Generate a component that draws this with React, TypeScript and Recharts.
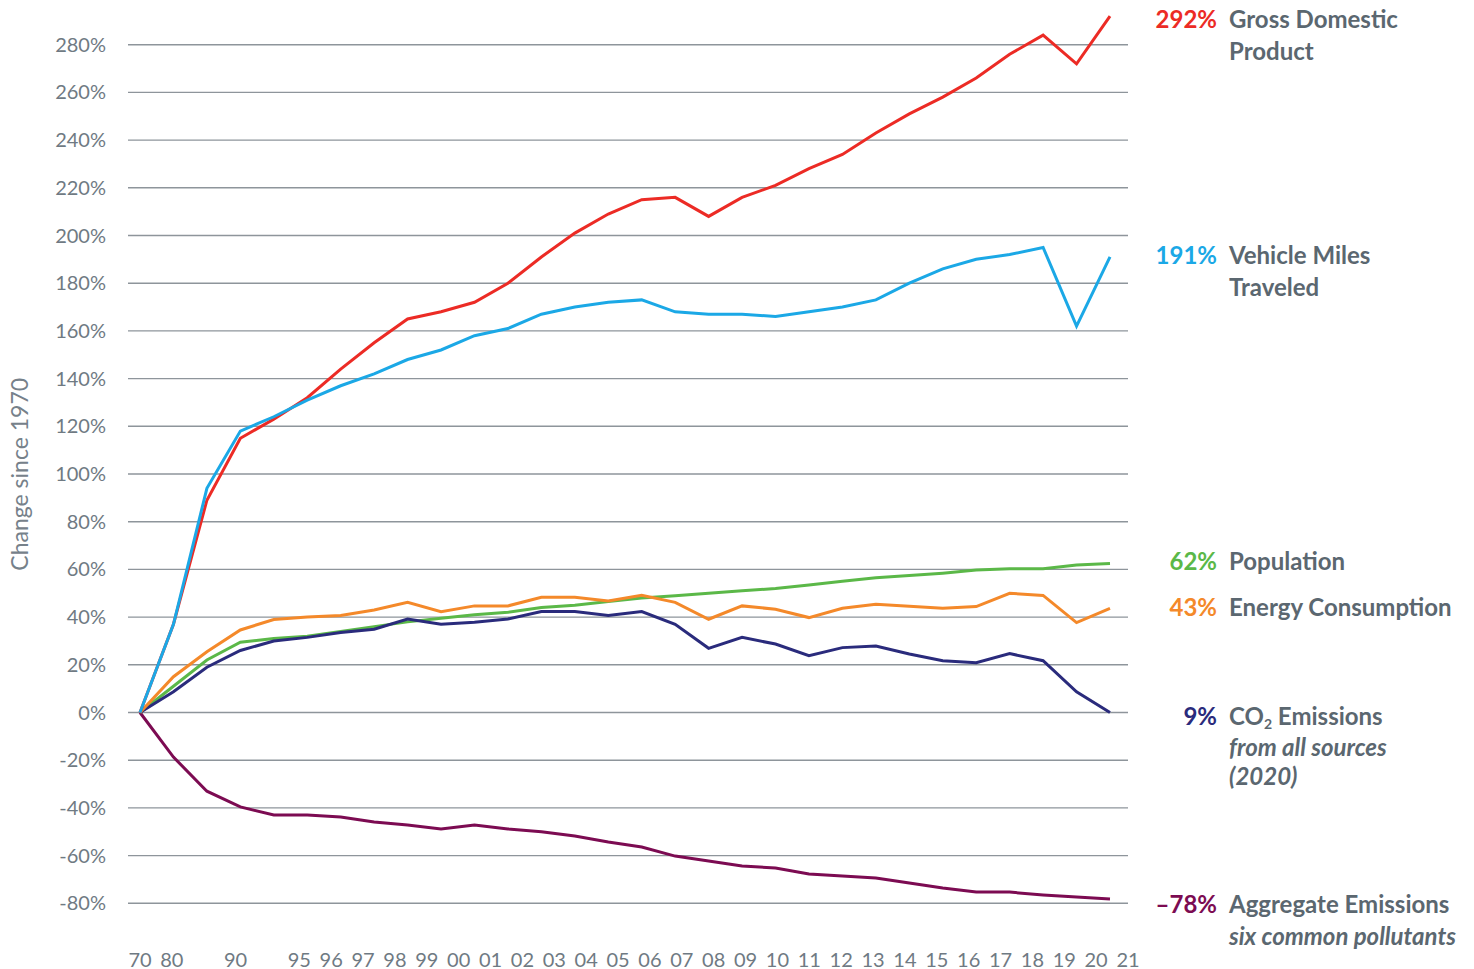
import { LineChart, Line, XAxis, YAxis, CartesianGrid } from "recharts";

// Years that have a data point (1970, 1980, 1990, then yearly from 1995)
const years = [
  "1970", "1980", "1990", "1995", "1996", "1997", "1998", "1999", "2000", "2001",
  "2002", "2003", "2004", "2005", "2006", "2007", "2008", "2009", "2010", "2011",
  "2012", "2013", "2014", "2015", "2016", "2017", "2018", "2019", "2020", "2021",
];

// % change since 1970
const gdp = [0, 37, 89, 115, 123, 132, 144, 155, 165, 168, 172, 180, 191, 201, 209, 215, 216, 208, 216, 221, 228, 234, 243, 251, 258, 266, 276, 284, 272, 292];
const vmt = [0, 37, 94, 118, 124, 131, 137, 142, 148, 152, 158, 161, 167, 170, 172, 173, 168, 167, 167, 166, 168, 170, 173, 180, 186, 190, 192, 195, 162, 191];
const population = [0, 11, 22, 29.5, 31, 32, 34, 36, 38, 39.5, 41, 42, 44, 45, 46.5, 48, 49, 50, 51, 52, 53.5, 55, 56.5, 57.4, 58.4, 59.7, 60.3, 60.3, 61.8, 62.5];
const energy = [0, 15, 25.5, 34.6, 39, 40, 40.7, 43, 46.2, 42.3, 44.7, 44.7, 48.3, 48.3, 46.8, 49.1, 46.2, 39.1, 44.7, 43.3, 39.8, 43.7, 45.4, 44.5, 43.7, 44.4, 50, 49.1, 37.7, 43.7];
const co2 = [0, 8.7, 19, 26, 30, 31.5, 33.5, 34.9, 39.2, 37, 37.8, 39.2, 42.3, 42.3, 40.7, 42.3, 37, 26.9, 31.5, 28.7, 23.8, 27.2, 27.9, 24.5, 21.7, 20.9, 24.7, 21.7, 8.7, 0];
const aggregate = [0, -18.7, -33, -39.6, -43, -43, -43.8, -45.9, -47.2, -48.8, -47.2, -48.8, -50, -51.8, -54.3, -56.4, -60.2, -62.3, -64.4, -65.2, -67.7, -68.6, -69.4, -71.5, -73.6, -75.3, -75.3, -76.5, -77.4, -78.2];

// Bottom tick labels (evenly spaced slots, two of them empty)
const xLabels = [
  "70", "80", "", "90", "", "95", "96", "97", "98", "99", "00", "01", "02", "03", "04", "05",
  "06", "07", "08", "09", "10", "11", "12", "13", "14", "15", "16", "17", "18", "19", "20", "21",
];
const xSlots = xLabels.map((_, i) => i);
const yTicks = [-80, -60, -40, -20, 0, 20, 40, 60, 80, 100, 120, 140, 160, 180, 200, 220, 240, 260, 280];

const endPercents = ["292%", "191%", "62%", "43%", "9%", "–78%"];

const data = years.map((year, i) => ({
  year,
  slot: xLabels.indexOf(year.slice(2)),
  gdp: gdp[i],
  vmt: vmt[i],
  population: population[i],
  energy: energy[i],
  co2: co2[i],
  aggregate: aggregate[i],
}));

const TEXT = "#5b6770";
const TICK = "#6f7a83";
const GRID = "#8e959b";
const FONT = "Lato, 'Open Sans', sans-serif";

interface Series {
  key: string;
  color: string;
  title: string[];
  note: string[];
  nudge: number;
}

// draw order: first is at the bottom
const series: Series[] = [
  { key: "aggregate", color: "#7c0b52", title: ["Aggregate Emissions"], note: ["six common pollutants"], nudge: 14 },
  { key: "population", color: "#5bb848", title: ["Population"], note: [], nudge: 7 },
  { key: "co2", color: "#2a2b7c", title: ["CO₂ Emissions"], note: ["from all sources", "(2020)"], nudge: 12.5 },
  { key: "energy", color: "#f4892a", title: ["Energy Consumption"], note: [], nudge: 8 },
  { key: "gdp", color: "#ec2b25", title: ["Gross Domestic", "Product"], note: [], nudge: 12 },
  { key: "vmt", color: "#1ba8e6", title: ["Vehicle Miles", "Traveled"], note: [], nudge: 7.5 },
];
const pctOrder = ["gdp", "vmt", "population", "energy", "co2", "aggregate"];

function withSubscript(t: string) {
  const parts = t.split("₂");
  if (parts.length < 2) return t;
  return (
    <>
      {parts[0]}
      <tspan dy={4} fontSize={14}>2</tspan>
      <tspan dy={-4}>{parts[1]}</tspan>
    </>
  );
}

// The last point of each line carries its value and name on the right.
const endLabel = (s: Series) => (props: any) => {
  const { cx, cy, index } = props;
  if (index !== years.length - 1) return <g key={`d-${index}`} />;
  const base = cy + s.nudge;
  const xName = cx + 119;
  const pct = endPercents[pctOrder.indexOf(s.key)];
  const noteTop = base + (s.title.length - 1) * 32 + 31.5;
  return (
    <g key={`d-${index}`} fontFamily={FONT} fontSize={24} fontWeight={700}>
      <text x={cx + 107} y={base} textAnchor="end" fill={s.color}>
        {pct}
      </text>
      {s.title.map((t, i) => (
        <text key={t} x={xName} y={base + i * 32} fill={TEXT}>
          {withSubscript(t)}
        </text>
      ))}
      {s.note.map((t, i) => (
        <text key={t} x={xName} y={noteTop + i * 29} fill={TEXT} fontStyle="italic">
          {t}
        </text>
      ))}
    </g>
  );
};

export default function App() {
  return (
    <div style={{ position: "absolute", left: 0, top: 0, fontFamily: FONT }}>
      <LineChart
        width={1474}
        height={969}
        data={data}
        margin={{ top: 11.3, right: 346, bottom: 5.7, left: 0 }}
      >
        <CartesianGrid vertical={false} syncWithTicks stroke={GRID} strokeWidth={1.4} />
        <XAxis
          xAxisId="data"
          dataKey="year"
          type="category"
          orientation="top"
          hide
          height={0}
          axisLine={false}
          padding={{ left: 12, right: 18 }}
        />
        <XAxis
          xAxisId="labels"
          dataKey="slot"
          type="number"
          domain={[0, xLabels.length - 1]}
          allowDataOverflow
          ticks={xSlots}
          interval={0}
          tickFormatter={(v: number) => xLabels[v] ?? ""}
          padding={{ left: 12, right: 0 }}
          axisLine={false}
          tickLine={false}
          tickSize={0}
          tickMargin={49}
          height={60}
          tick={{ fill: TICK, fontSize: 20, fontFamily: FONT }}
        />
        <YAxis
          type="number"
          domain={[-80, 294]}
          ticks={yTicks}
          interval={0}
          width={128}
          axisLine={false}
          tickLine={false}
          tickSize={0}
          tickMargin={22}
          tickFormatter={(v: number) => `${v}%`}
          tick={{ fill: TICK, fontSize: 20, fontFamily: FONT }}
          label={{
            content: (p: any) => {
              const vb = p.viewBox;
              const x = vb.x + 28.5;
              const y = vb.y + vb.height / 2 + 17;
              return (
                <text
                  x={x}
                  y={y}
                  transform={`rotate(-90 ${x} ${y})`}
                  textAnchor="middle"
                  fill="#76818a"
                  fontSize={23}
                  fontWeight={400}
                  fontFamily={FONT}
                >
                  Change since 1970
                </text>
              );
            },
          }}
        />
        {series.map((s) => (
          <Line
            key={s.key}
            xAxisId="data"
            dataKey={s.key}
            type="linear"
            stroke={s.color}
            strokeWidth={3}
            dot={endLabel(s)}
            activeDot={false}
            isAnimationActive={false}
          />
        ))}
      </LineChart>
    </div>
  );
}
